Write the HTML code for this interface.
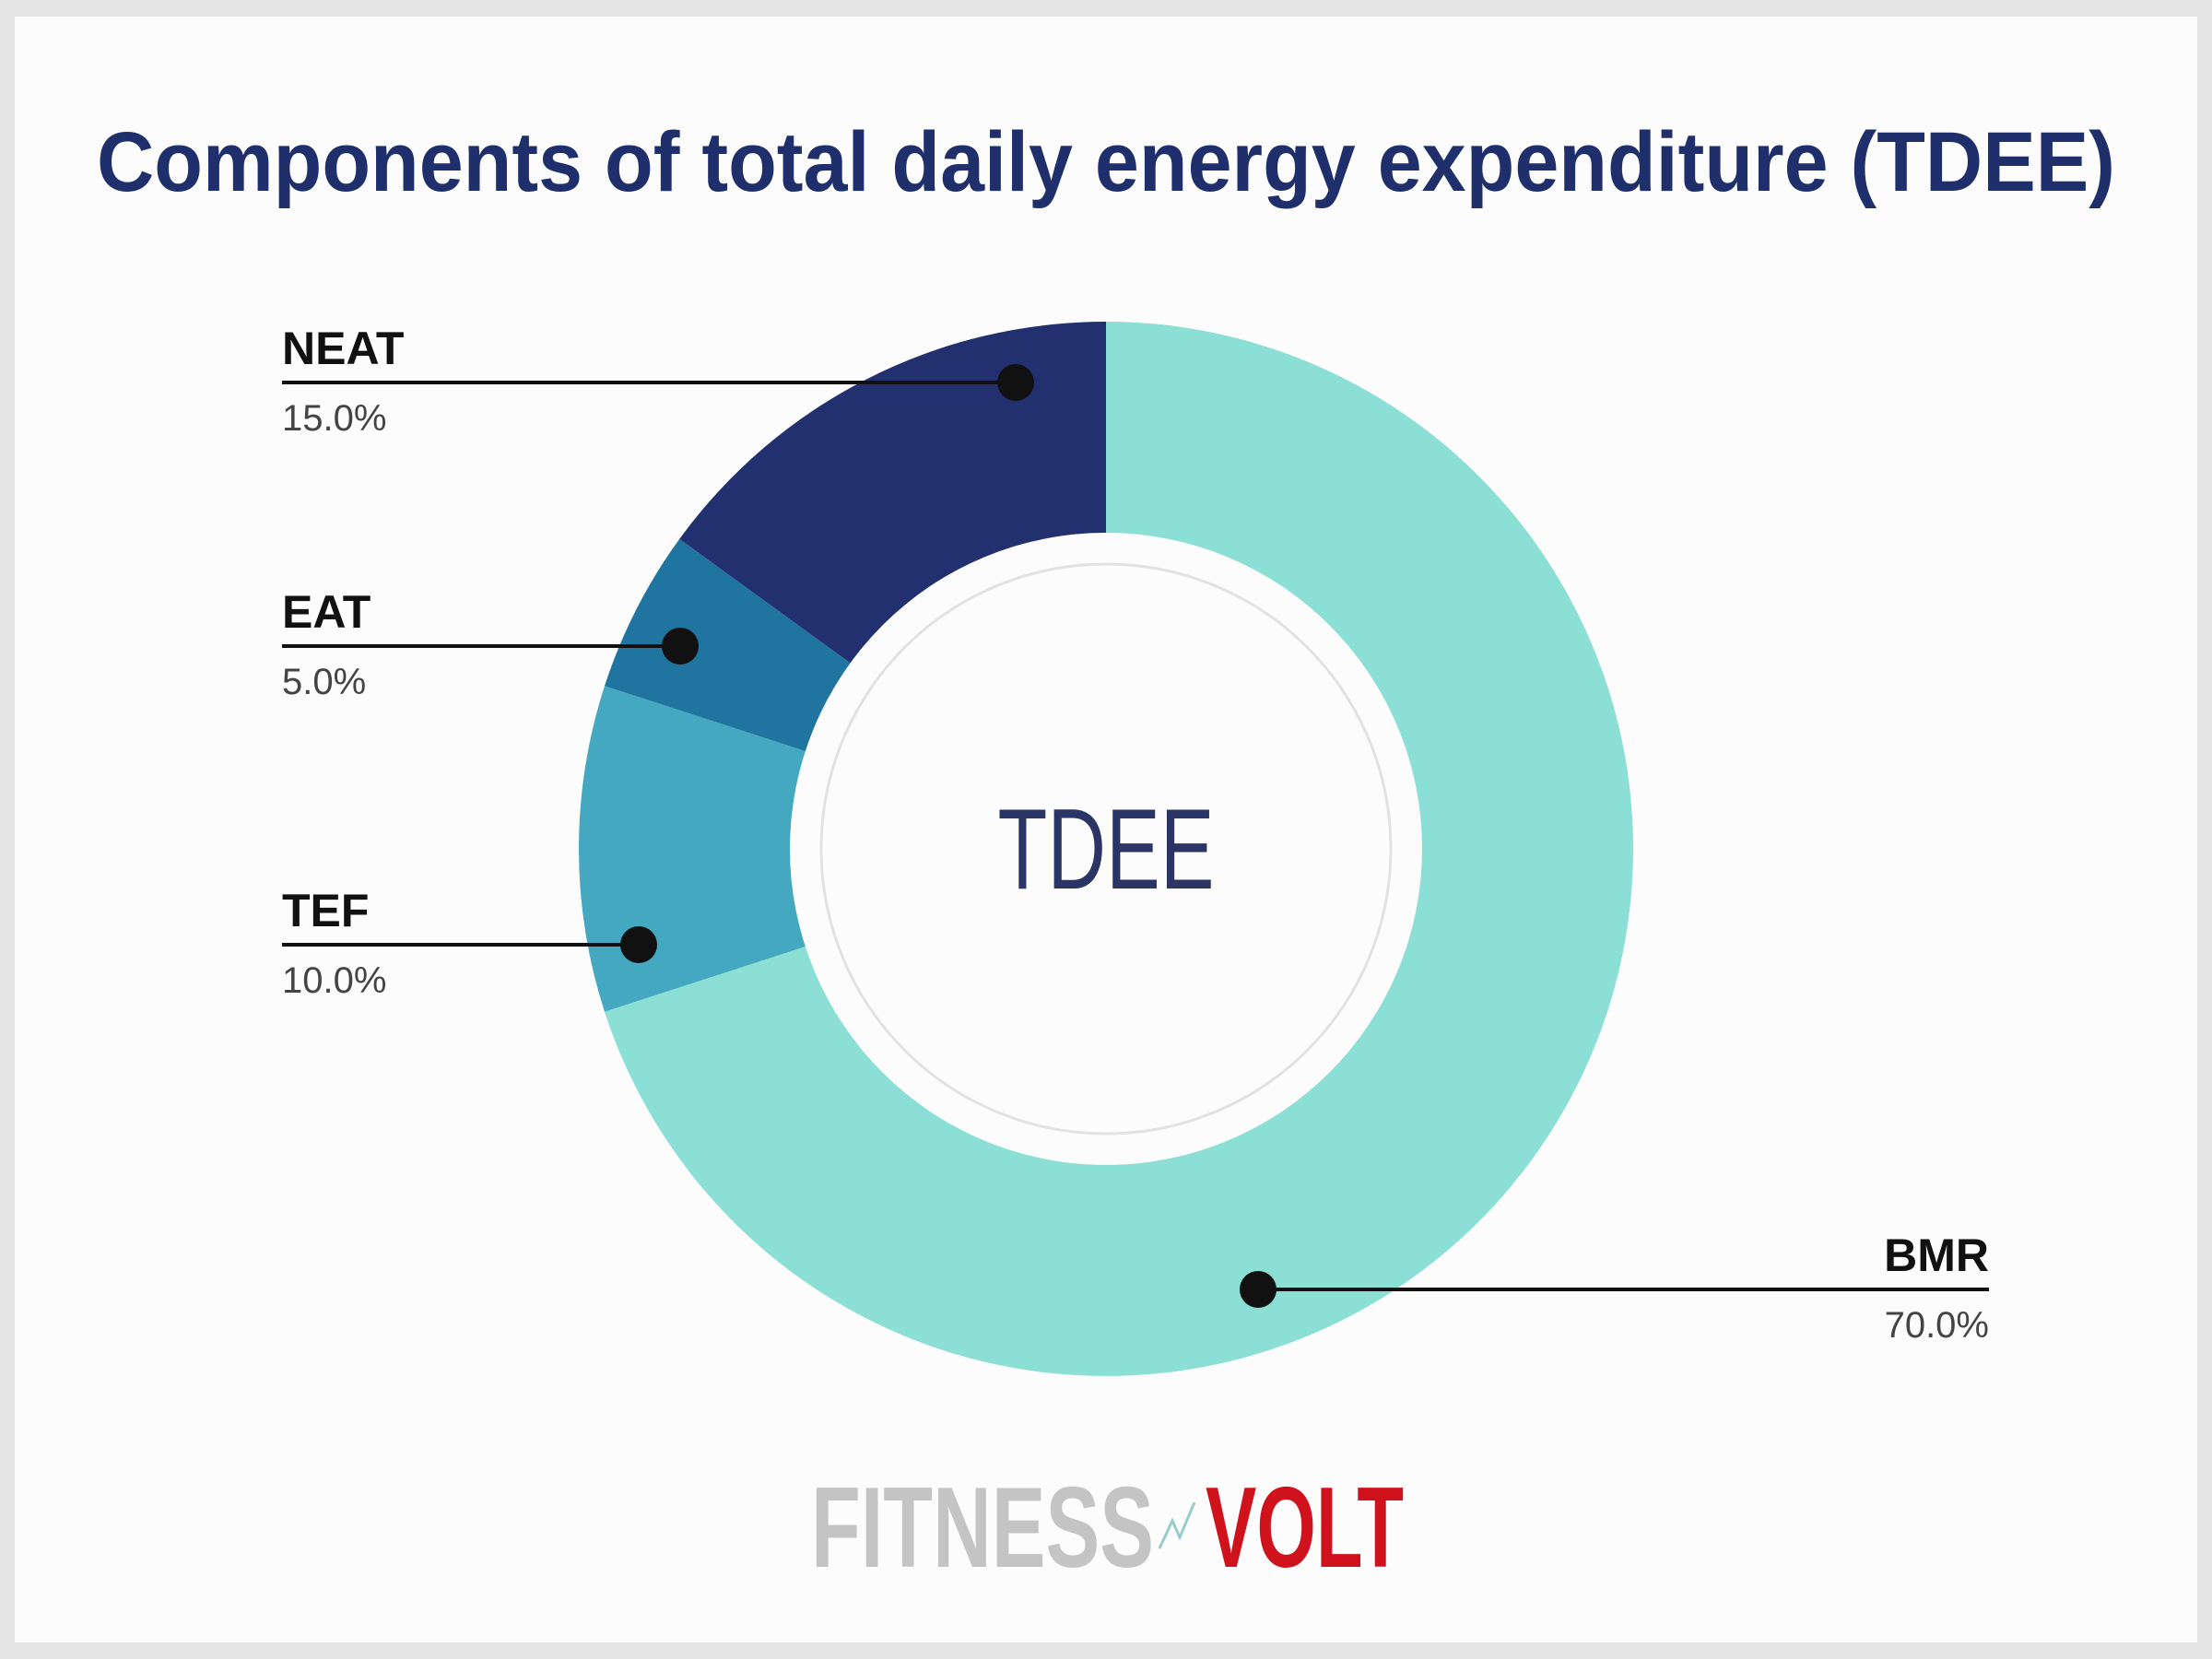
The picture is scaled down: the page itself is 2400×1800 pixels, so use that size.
<!DOCTYPE html>
<html><head><meta charset="utf-8"><style>
html,body{margin:0;padding:0;background:#e4e4e4;}
svg{display:block;}
text{font-family:"Liberation Sans",sans-serif;}
</style></head><body>
<svg id="chart" width="2400" height="1800" viewBox="0 0 2400 1800" xmlns="http://www.w3.org/2000/svg">
<rect x="0" y="0" width="2400" height="1800" fill="#e4e4e4"/>
<rect x="16" y="18" width="2368" height="1764" fill="#fcfcfc"/>
<text x="1200" y="207" text-anchor="middle" font-size="92" font-weight="bold" fill="#1f2f6b" textLength="2190" lengthAdjust="spacingAndGlyphs">Components of total daily energy expenditure (TDEE)</text>
<g id="slices"></g>
<circle cx="1200" cy="921" r="343" fill="#fcfcfc"/>
<circle cx="1200" cy="921" r="309" fill="none" stroke="#e2e2e2" stroke-width="3"/>
<text x="1200" y="964" text-anchor="middle" font-size="124" fill="#2a3566" textLength="235" lengthAdjust="spacingAndGlyphs">TDEE</text>
<g id="labels"></g>
<g>
<text x="880" y="1700" font-size="124" font-weight="bold" fill="#c4c4c4" textLength="372" lengthAdjust="spacingAndGlyphs">FITNESS</text>
<path d="M1258 1680 L1272 1650 L1280 1668 L1296 1630" stroke="#9cc" stroke-width="3" fill="none"/>
<text x="1308" y="1700" font-size="124" font-weight="bold" fill="#d0121c" textLength="215" lengthAdjust="spacingAndGlyphs">VOLT</text>
</g>
</svg>
<script>
const categories = ["BMR", "TEF", "EAT", "NEAT"];
const values = [70, 10, 5, 15];
const colors = ["#8cdfd5", "#45a8c1", "#1f74a0", "#233070"];
const NS = "http://www.w3.org/2000/svg";
const cx = 1200, cy = 921, R = 572, r0 = 300;
const total = values.reduce((a, b) => a + b, 0);
function pt(ang, rad) { return [cx + rad * Math.sin(ang), cy - rad * Math.cos(ang)]; }
const slicesG = document.getElementById("slices");
let acc = 0;
values.forEach((v, i) => {
  const a0 = acc / total * 2 * Math.PI; acc += v;
  const a1 = acc / total * 2 * Math.PI;
  const large = (a1 - a0) > Math.PI ? 1 : 0;
  const p0 = pt(a0, R), p1 = pt(a1, R), q1 = pt(a1, r0), q0 = pt(a0, r0);
  const p = document.createElementNS(NS, "path");
  p.setAttribute("d", `M${p0[0]} ${p0[1]} A${R} ${R} 0 ${large} 1 ${p1[0]} ${p1[1]} L${q1[0]} ${q1[1]} A${r0} ${r0} 0 ${large} 0 ${q0[0]} ${q0[1]} Z`);
  p.setAttribute("fill", colors[i]);
  
  
  slicesG.appendChild(p);
});
// callout layout (design, not data): dot x, line y, text x, anchor
const layout = {
  BMR: { dot: 1365, ly: 1399, tx: 2158, anchor: "end" },
  TEF: { dot: 693, ly: 1025, tx: 306, anchor: "start" },
  EAT: { dot: 738, ly: 701, tx: 306, anchor: "start" },
  NEAT: { dot: 1102, ly: 415, tx: 306, anchor: "start" }
};
const labelsG = document.getElementById("labels");
categories.forEach((c, i) => {
  const L = layout[c];
  const g = document.createElementNS(NS, "g");
  
  
  const ln = document.createElementNS(NS, "line");
  ln.setAttribute("x1", L.tx); ln.setAttribute("x2", L.dot);
  ln.setAttribute("y1", L.ly); ln.setAttribute("y2", L.ly);
  ln.setAttribute("stroke", "#111"); ln.setAttribute("stroke-width", "4");
  
  
  g.appendChild(ln);
  const dot = document.createElementNS(NS, "circle");
  dot.setAttribute("cx", L.dot); dot.setAttribute("cy", L.ly); dot.setAttribute("r", "20");
  dot.setAttribute("fill", "#111");
  
  
  g.appendChild(dot);
  const t1 = document.createElementNS(NS, "text");
  t1.setAttribute("x", L.tx); t1.setAttribute("y", L.ly - 20);
  t1.setAttribute("text-anchor", L.anchor);
  t1.setAttribute("font-size", "50"); t1.setAttribute("font-weight", "bold"); t1.setAttribute("fill", "#111");
  t1.textContent = c;
  
  
  g.appendChild(t1);
  const t2 = document.createElementNS(NS, "text");
  t2.setAttribute("x", L.tx); t2.setAttribute("y", L.ly + 52);
  t2.setAttribute("text-anchor", L.anchor);
  t2.setAttribute("font-size", "40"); t2.setAttribute("fill", "#444");
  t2.textContent = (values[i] / total * 100).toFixed(1) + "%";
  
  
  g.appendChild(t2);
  labelsG.appendChild(g);
});
</script>
</body></html>
